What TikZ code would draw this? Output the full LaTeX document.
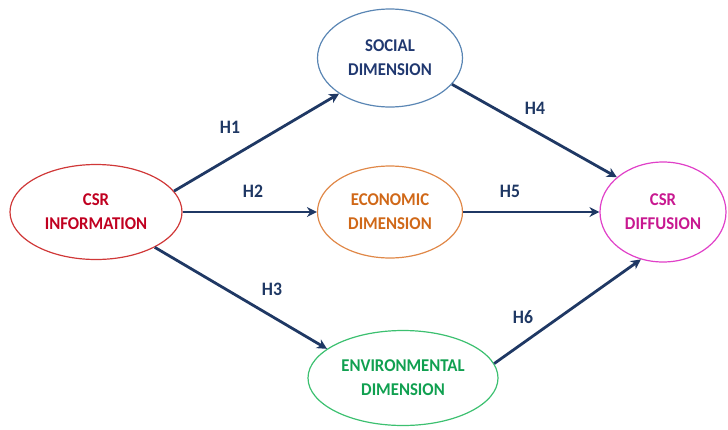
\documentclass[tikz,border=0pt]{standalone}
\usepackage{fontspec}
\setmainfont{Carlito}
\newfontfamily\condfont[FakeStretch=0.93]{Carlito}
\usetikzlibrary{arrows.meta,shapes.geometric}
\definecolor{navy}{HTML}{1F3864}
\definecolor{cred}{HTML}{D03838}
\definecolor{tred}{HTML}{C00020}
\definecolor{cblue}{HTML}{5A86B4}
\definecolor{tblue}{HTML}{203870}
\definecolor{corange}{HTML}{E08848}
\definecolor{torange}{HTML}{D06818}
\definecolor{cgreen}{HTML}{3CC070}
\definecolor{tgreen}{HTML}{10A050}
\definecolor{cmag}{HTML}{E040C8}
\definecolor{tmag}{HTML}{C81890}
\begin{document}
\begin{tikzpicture}[x=1pt,y=-1pt,
  dim/.style={ellipse,draw,line width=1.2pt,align=center,inner sep=0pt,
    font=\condfont\fontsize{18}{24}\selectfont\bfseries},
  link/.style={draw=navy,line width=2.8pt,-{Stealth[length=10pt,width=10pt]}},
  hlab/.style={text=navy,font=\condfont\fontsize{19}{22}\selectfont\bfseries}]
\useasboundingbox (0,0) rectangle (728,429);
\node[dim,draw=cred,text=tred,minimum width=172pt,minimum height=95pt] (info) at (96,212) {CSR\\INFORMATION};
\node[dim,draw=cblue,text=tblue,minimum width=145pt,minimum height=98pt] (soc) at (390,58) {SOCIAL\\DIMENSION};
\node[dim,draw=corange,text=torange,minimum width=145pt,minimum height=92pt] (eco) at (390,212) {ECONOMIC\\DIMENSION};
\node[dim,draw=cgreen,text=tgreen,minimum width=190pt,minimum height=95pt] (env) at (403,378) {ENVIRONMENTAL\\DIMENSION};
\node[dim,draw=cmag,text=tmag,minimum width=126pt,minimum height=100pt] (dif) at (663,212) {CSR\\DIFFUSION};
\draw[link] (info.15) -- (soc.215);
\draw[link] (info.east) -- (eco.west);
\draw[link] (info.-31) -- (env.159);
\draw[link] (soc.-23) -- (dif.143);
\draw[link] (eco.east) -- (dif.west);
\draw[link] (env.9) -- (dif.245);
\node[hlab] (h1) at (230,127) {H1};
\node[hlab] (h2) at (253,191) {H2};
\node[hlab] (h3) at (272,289) {H3};
\node[hlab] (h4) at (535,108) {H4};
\node[hlab] (h5) at (510,191) {H5};
\node[hlab] (h6) at (523,317) {H6};
\end{tikzpicture}
\end{document}
